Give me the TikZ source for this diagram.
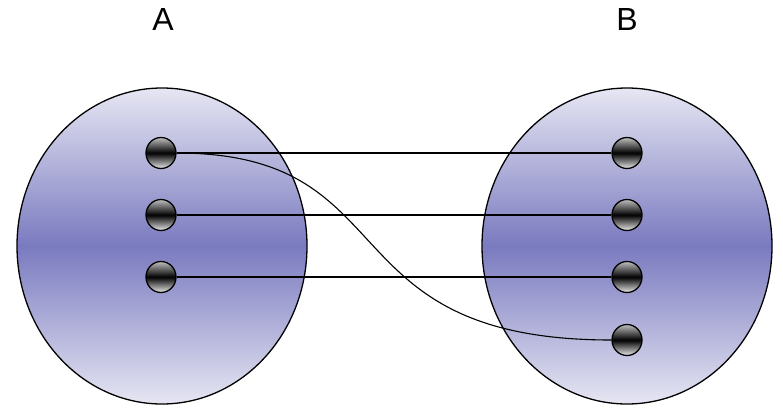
\documentclass[tikz,border=0pt]{standalone}
\usepackage{fontspec}
\setmainfont{Liberation Sans}
\usetikzlibrary{shapes.geometric}
\definecolor{setmid}{HTML}{7A7AC0}
\definecolor{setedge}{HTML}{E6E6F3}
\tikzset{
  setshape/.style={ellipse, draw=black, line width=1.3pt, inner sep=0pt,
    minimum width=290pt, minimum height=316pt,
    top color=setedge, bottom color=setedge, middle color=setmid},
  elem/.style={ellipse, draw=black, line width=1.3pt, inner sep=0pt,
    minimum width=30pt, minimum height=31pt,
    top color=black!25, bottom color=black!8, middle color=black},
  link/.style={draw=black, line width=1.1pt},
  setlabel/.style={font=\fontsize{32}{36}\selectfont, inner sep=0pt}
}
\begin{document}
\begin{tikzpicture}[x=1pt,y=-1pt]
\useasboundingbox (0,0) rectangle (783,407);
\node[setshape] (A) at (162,246) {};
\node[setshape] (B) at (627,246) {};
\node[setlabel] (la) at (163,19) {A};
\node[setlabel] (lb) at (627,19) {B};
\node[elem] (a1) at (161,153) {};
\node[elem] (a2) at (161,215) {};
\node[elem] (a3) at (161,277) {};
\node[elem] (b1) at (627,153) {};
\node[elem] (b2) at (627,215) {};
\node[elem] (b3) at (627,277) {};
\node[elem] (b4) at (627,340) {};
\draw[link] (a1.east) -- (b1.west);
\draw[link] (a2.east) -- (b2.west);
\draw[link] (a3.east) -- (b3.west);
\draw[link] (a1.east) .. controls (410,153) and (324,340) .. (b4.west);
\end{tikzpicture}
\end{document}
